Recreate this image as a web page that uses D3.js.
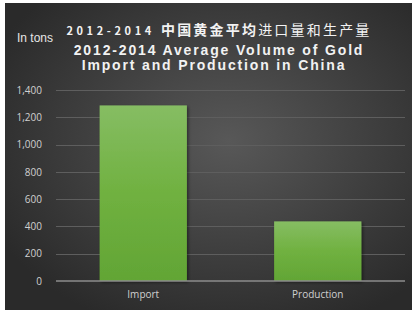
<!DOCTYPE html>
<html>
<head>
<meta charset="utf-8">
<title>gold import and production</title>
<script src="https://cdn.jsdelivr.net/npm/d3@7"></script>
<style>
  body { margin: 0; background: #fff; }
</style>
</head>
<body>
<script>
// data
var categories = ["Import", "Production"];
var values = [1287, 437];
var yTicks = [0, 200, 400, 600, 800, 1000, 1200, 1400];

var width = 415, height = 310;
var margin = {left: 56, right: 10, top: 90, bottom: 29};
var sans = "'Liberation Sans', Arial, sans-serif";

var svg = d3.select("body").append("svg")
    .attr("width", width)
    .attr("height", height);

var defs = svg.append("defs");
var bg = defs.append("radialGradient").attr("id", "bg")
    .attr("cx", "0.55").attr("cy", "0.45").attr("r", "0.65");
bg.append("stop").attr("offset", "0%").attr("stop-color", "#585858");
bg.append("stop").attr("offset", "100%").attr("stop-color", "#2a2a2a");

var barGrad = defs.append("linearGradient").attr("id", "bar")
    .attr("x1", 0).attr("y1", 0).attr("x2", 0).attr("y2", 1);
barGrad.append("stop").attr("offset", "0%").attr("stop-color", "#86bd63");
barGrad.append("stop").attr("offset", "50%").attr("stop-color", "#70b140");
barGrad.append("stop").attr("offset", "100%").attr("stop-color", "#62a535");

var shadow = defs.append("filter").attr("id", "shadow")
    .attr("x", "-10%").attr("y", "-10%").attr("width", "130%").attr("height", "130%");
shadow.append("feDropShadow").attr("dx", 1.5).attr("dy", 1.5)
    .attr("stdDeviation", 1.5).attr("flood-color", "#000").attr("flood-opacity", 0.45);

// dark panel
svg.append("rect")
    .attr("x", 5).attr("y", 3)
    .attr("width", 407).attr("height", 307)
    .attr("fill", "url(#bg)");

var x = d3.scaleBand()
    .domain(categories)
    .range([margin.left, width - margin.right])
    .paddingInner(0.5)
    .paddingOuter(0.25);

var y = d3.scaleLinear()
    .domain([0, 1400])
    .range([height - margin.bottom, margin.top]);

// gridlines
svg.append("g").selectAll("line")
    .data(yTicks.slice(1))
    .enter().append("line")
    .attr("x1", margin.left).attr("x2", width - margin.right)
    .attr("y1", function(d) { return Math.round(y(d)) + 0.5; })
    .attr("y2", function(d) { return Math.round(y(d)) + 0.5; })
    .attr("stroke", "#5e5e5e").attr("stroke-width", 1);

// y axis labels
var yAxis = d3.axisLeft(y)
    .tickValues(yTicks)
    .tickFormat(d3.format(","))
    .tickSize(0)
    .tickPadding(14);
var ya = svg.append("g")
    .attr("transform", "translate(" + margin.left + ",0)")
    .call(yAxis);
ya.select(".domain").remove();
ya.selectAll("text")
    .attr("fill", "#d0d0d0")
    .style("font-family", "'Open Sans', 'DejaVu Sans', sans-serif")
    .style("font-size", "10px");

// bars
svg.append("g").selectAll("rect")
    .data(values)
    .enter().append("rect")
    .attr("x", function(d, i) { return x(categories[i]); })
    .attr("width", x.bandwidth())
    .attr("y", function(d) { return y(d); })
    .attr("height", function(d) { return y(0) - y(d); })
    .attr("fill", "url(#bar)")
    .attr("filter", "url(#shadow)");

// baseline
svg.append("line")
    .attr("x1", margin.left).attr("x2", width - margin.right)
    .attr("y1", y(0)).attr("y2", y(0))
    .attr("stroke", "#8c8c8c").attr("stroke-width", 1.5);

// x axis labels
var xAxis = d3.axisBottom(x).tickSize(0).tickPadding(10);
var xa = svg.append("g")
    .attr("transform", "translate(0," + y(0) + ")")
    .call(xAxis);
xa.select(".domain").remove();
xa.selectAll("text")
    .attr("fill", "#d0d0d0")
    .style("font-family", "'Open Sans', 'DejaVu Sans', sans-serif")
    .style("font-size", "10px");

// unit label
svg.append("text")
    .attr("x", 17).attr("y", 42)
    .attr("fill", "#e6e6e6")
    .style("font-family", sans)
    .style("font-size", "12px")
    .text("In tons");

// titles
var t1 = svg.append("text")
    .attr("x", 219).attr("y", 35)
    .attr("text-anchor", "middle")
    .attr("fill", "#f2f2f2")
    .style("font-family", "'Noto Sans CJK SC', sans-serif");
t1.append("tspan").style("font-size", "11px").style("font-weight", "bold")
    .style("letter-spacing", "3.6px").text("2012-2014 ");
t1.append("tspan").style("font-size", "14px").style("font-weight", "bold")
    .style("letter-spacing", "2.2px").text("中国黄金平均");
t1.append("tspan").style("font-size", "14px")
    .style("letter-spacing", "2.2px").text("进口量和生产量");

svg.append("text")
    .attr("x", 219).attr("y", 55)
    .attr("text-anchor", "middle")
    .attr("fill", "#f2f2f2")
    .style("font-family", sans)
    .style("font-size", "14px").style("font-weight", "bold")
    .style("letter-spacing", "1.85px")
    .text("2012-2014 Average Volume of Gold");

svg.append("text")
    .attr("x", 214).attr("y", 70)
    .attr("text-anchor", "middle")
    .attr("fill", "#f2f2f2")
    .style("font-family", sans)
    .style("font-size", "14px").style("font-weight", "bold")
    .style("letter-spacing", "1.85px")
    .text("Import and Production in China");
</script>
</body>
</html>
